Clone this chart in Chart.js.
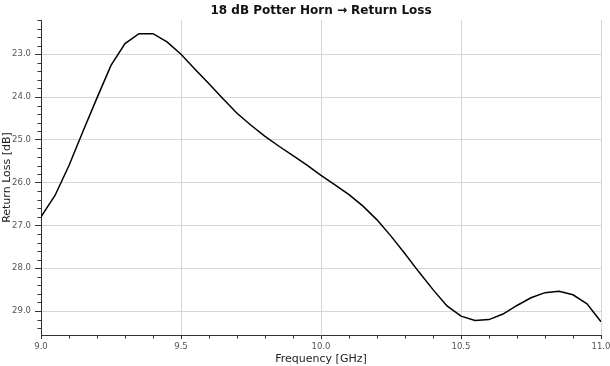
<!DOCTYPE html>
<html>
<head>
<meta charset="utf-8">
<script src="https://cdn.jsdelivr.net/npm/chart.js@4.4.1/dist/chart.umd.min.js"></script>
<style>
  html, body { margin: 0; padding: 0; background: #fff; }
  #wrap { width: 610px; height: 366px; }
</style>
</head>
<body>
<div id="wrap"><canvas id="rlChart" width="610" height="366"></canvas></div>
<script>
// 데이터
var chartTitle = '18 dB Potter Horn \u2192 Return Loss';
var freqGHz = [9.00, 9.05, 9.10, 9.15, 9.20, 9.25, 9.30, 9.35, 9.40, 9.45,
               9.50, 9.55, 9.60, 9.65, 9.70, 9.75, 9.80, 9.85, 9.90, 9.95,
               10.00, 10.05, 10.10, 10.15, 10.20, 10.25, 10.30, 10.35, 10.40, 10.45,
               10.50, 10.55, 10.60, 10.65, 10.70, 10.75, 10.80, 10.85, 10.90, 10.95,
               11.00];
var returnLoss = [26.80, 26.30, 25.60, 24.80, 24.02, 23.26, 22.75, 22.52, 22.52, 22.71,
                  23.00, 23.35, 23.69, 24.04, 24.38, 24.66, 24.92, 25.15, 25.37, 25.59,
                  25.83, 26.05, 26.28, 26.55, 26.87, 27.25, 27.66, 28.09, 28.50, 28.88,
                  29.12, 29.22, 29.20, 29.07, 28.87, 28.69, 28.57, 28.54, 28.62, 28.83,
                  29.25];
var xTicks = [9.0, 9.5, 10.0, 10.5, 11.0];
var yTicks = [23, 24, 25, 26, 27, 28, 29];

var FONT = 'DejaVu Sans';

// 보조 눈금 + 제목
var extrasPlugin = {
  id: 'extras',
  afterDraw: function(chart) {
    var ctx = chart.ctx;
    var xs = chart.scales.x, ys = chart.scales.y;
    var area = chart.chartArea;
    ctx.save();
    ctx.strokeStyle = '#333';
    ctx.lineWidth = 1;
    ctx.beginPath();
    for (var i = 0; i <= 20; i++) {
      if (i % 5 === 0) continue;
      var px = Math.round(xs.getPixelForValue(9 + i * 0.1)) + 0.5;
      ctx.moveTo(px, area.bottom);
      ctx.lineTo(px, area.bottom + 3.5);
    }
    for (var j = 0; j <= 36; j++) {
      var v = 22.2 + j * 0.2;
      if (Math.abs(v - Math.round(v)) < 0.01) continue;
      if (v > 29.5) continue;
      var py = Math.round(ys.getPixelForValue(v)) + 0.5;
      ctx.moveTo(area.left - 3.5, py);
      ctx.lineTo(area.left, py);
    }
    ctx.stroke();

    ctx.font = 'bold 12px ' + FONT;
    ctx.fillStyle = '#111';
    ctx.textAlign = 'center';
    ctx.textBaseline = 'alphabetic';
    ctx.fillText(chartTitle, (area.left + area.right) / 2, 14);
    ctx.restore();
  }
};

var points = freqGHz.map(function(f, i) { return { x: f, y: returnLoss[i] }; });

var rlChart = new Chart(document.getElementById('rlChart'), {
  type: 'line',
  data: {
    datasets: [{
      label: 'Return Loss',
      data: points,
      borderColor: '#000',
      borderWidth: 1.5,
      pointRadius: 0,
      tension: 0,
      fill: false
    }]
  },
  options: {
    responsive: false,
    animation: false,
    events: [],
    layout: {
      padding: { left: 0, right: 9, top: 20, bottom: 0 }
    },
    plugins: {
      legend: { display: false },
      tooltip: { enabled: false },
      title: { display: false }
    },
    scales: {
      x: {
        type: 'linear',
        min: 9,
        max: 11,
        afterBuildTicks: function(scale) {
          scale.ticks = xTicks.map(function(v) { return { value: v }; });
        },
        afterFit: function(scale) {
          scale.height = 31;
          scale.paddingLeft = 0;
          scale.paddingRight = 0;
        },
        grid: {
          color: '#d6d6d6',
          tickColor: '#333',
          tickLength: 4,
          drawOnChartArea: true
        },
        border: { color: '#333', width: 1 },
        ticks: {
          color: '#555',
          padding: 3,
          maxRotation: 0,
          font: { family: FONT, size: 8.5 },
          callback: function(v) { return Number(v).toFixed(1); }
        },
        title: {
          display: true,
          text: 'Frequency [GHz]',
          color: '#222',
          font: { family: FONT, size: 11 },
          padding: { top: 0, bottom: 0 }
        }
      },
      y: {
        type: 'linear',
        reverse: true,
        min: 22.2,
        max: 29.56,
        afterBuildTicks: function(scale) {
          scale.ticks = yTicks.map(function(v) { return { value: v }; });
        },
        afterFit: function(scale) {
          scale.width = 41;
          scale.paddingTop = 0;
          scale.paddingBottom = 0;
        },
        grid: {
          color: '#d6d6d6',
          tickColor: '#333',
          tickLength: 6
        },
        border: { color: '#333', width: 1 },
        ticks: {
          color: '#555',
          padding: 4,
          font: { family: FONT, size: 8.5 },
          callback: function(v) { return Number(v).toFixed(1); }
        },
        title: {
          display: true,
          text: 'Return Loss [dB]',
          color: '#222',
          font: { family: FONT, size: 11 },
          padding: { top: 1, bottom: 0 }
        }
      }
    }
  },
  plugins: [extrasPlugin]
});
</script>
</body>
</html>
